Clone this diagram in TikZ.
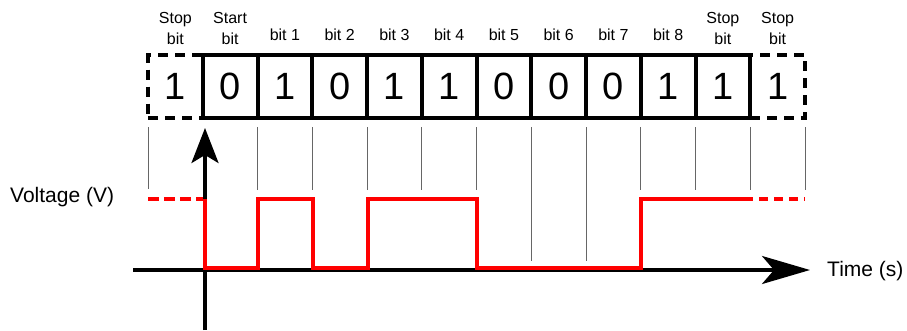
\documentclass[tikz,border=0pt]{standalone}
\usepackage{fontspec}
\setmainfont{Liberation Sans}
\usetikzlibrary{arrows.meta}

\begin{document}
\begin{tikzpicture}[x=1pt,y=-1pt,
  cell/.style={draw=black,line width=4pt,minimum width=54.75pt,minimum height=63pt,inner sep=0pt,font=\fontsize{38}{40}\selectfont},
  dashcell/.style={cell,dash pattern=on 10pt off 7pt},
  lbl/.style={font=\fontsize{16}{21}\selectfont,align=center,inner sep=0pt},
  axlbl/.style={font=\fontsize{21}{24}\selectfont,inner sep=0pt},
  tick/.style={draw=black!60,line width=0.9pt},
  sig/.style={draw=red,line width=4pt},
  axis/.style={draw=black,line width=3.5pt}]
\useasboundingbox (0,0) rectangle (907,330);
% frame cells
\node[dashcell] (stopL) at (175.375,86.5) {1};
\node[dashcell] (stopB) at (777.625,86.5) {1};
\node[cell] (start) at (230.125,86.5) {0};
\node[cell] (b1) at (284.875,86.5) {1};
\node[cell] (b2) at (339.625,86.5) {0};
\node[cell] (b3) at (394.375,86.5) {1};
\node[cell] (b4) at (449.125,86.5) {1};
\node[cell] (b5) at (503.875,86.5) {0};
\node[cell] (b6) at (558.625,86.5) {0};
\node[cell] (b7) at (613.375,86.5) {0};
\node[cell] (b8) at (668.125,86.5) {1};
\node[cell] (stopA) at (722.875,86.5) {1};
% labels
\node[lbl,anchor=south] (lstopL) at (175.375,45) {Stop\\bit};
\node[lbl,anchor=south] (lstart) at (230.125,45) {Start\\bit};
\node[lbl,anchor=base] (lb1) at (284.875,40) {bit 1};
\node[lbl,anchor=base] (lb2) at (339.625,40) {bit 2};
\node[lbl,anchor=base] (lb3) at (394.375,40) {bit 3};
\node[lbl,anchor=base] (lb4) at (449.125,40) {bit 4};
\node[lbl,anchor=base] (lb5) at (503.875,40) {bit 5};
\node[lbl,anchor=base] (lb6) at (558.625,40) {bit 6};
\node[lbl,anchor=base] (lb7) at (613.375,40) {bit 7};
\node[lbl,anchor=base] (lb8) at (668.125,40) {bit 8};
\node[lbl,anchor=south] (lstopA) at (722.875,45) {Stop\\bit};
\node[lbl,anchor=south] (lstopB) at (777.625,45) {Stop\\bit};
% bit boundaries
\draw[tick] (148.00,127) -- (148.00,189);
\draw[tick] (257.50,127) -- (257.50,190);
\draw[tick] (312.25,127) -- (312.25,190);
\draw[tick] (367.00,127) -- (367.00,190);
\draw[tick] (421.75,127) -- (421.75,190);
\draw[tick] (476.50,127) -- (476.50,190);
\draw[tick] (531.25,127) -- (531.25,261);
\draw[tick] (586.00,127) -- (586.00,261);
\draw[tick] (640.75,127) -- (640.75,190);
\draw[tick] (695.50,127) -- (695.50,190);
\draw[tick] (750.25,127) -- (750.25,190);
\draw[tick] (805.00,127) -- (805.00,190);
% axes
\draw[axis,-{Stealth[length=48pt,width=28pt,inset=12pt]}] (133,270) -- (810,270);
\draw[axis,-{Stealth[length=35pt,width=27pt,inset=8pt]}] (205,330) -- (205,128);
\node[axlbl,anchor=base west] (volt) at (10,202) {Voltage (V)};
\node[axlbl,anchor=base west] (time) at (827,276) {Time (s)};
% signal
\draw[sig,dash pattern=on 11pt off 5pt] (148,199) -- (203,199);
\draw[sig] (205,199) -- (205,268) -- (258,268) -- (258,199) -- (313,199) -- (313,268) -- (368,268) -- (368,199) -- (477,199) -- (477,268) -- (641,268) -- (641,199) -- (753,199);
\draw[sig,dash pattern=on 9pt off 6pt] (759,199) -- (805,199);
\end{tikzpicture}
\end{document}
